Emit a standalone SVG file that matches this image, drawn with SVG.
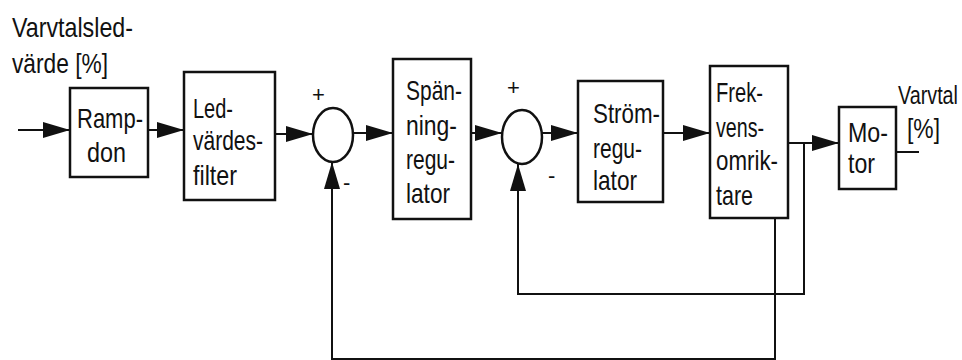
<svg xmlns="http://www.w3.org/2000/svg" width="962" height="360" viewBox="0 0 962 360">
<style>
.box{fill:#fff;stroke:#111;stroke-width:2.5}
.sum{fill:#fff;stroke:#111;stroke-width:2.5}
.ln{fill:none;stroke:#111;stroke-width:2}
text{font-family:"Liberation Sans",Arial,sans-serif;font-size:28px;fill:#111}
.sg{font-size:22px}
.out{font-size:26px}
</style>
<defs>
<marker id="ah" markerUnits="userSpaceOnUse" markerWidth="27" markerHeight="16" refX="27" refY="8" orient="auto">
<path d="M0,0 L27,8 L0,16 z" fill="#111"/>
</marker>
</defs>
<g id="labels">
<text x="12" y="37" textLength="121" lengthAdjust="spacingAndGlyphs">Varvtalsled-</text>
<text x="12" y="73" textLength="96" lengthAdjust="spacingAndGlyphs">värde [%]</text>
<text class="out" x="958" y="104" text-anchor="end" textLength="60" lengthAdjust="spacingAndGlyphs">Varvtal</text>
<text x="907" y="138" textLength="33" lengthAdjust="spacingAndGlyphs">[%]</text>
<text class="sg" x="312" y="102">+</text>
<text class="sg" x="343" y="190">-</text>
<text class="sg" x="507" y="95">+</text>
<text class="sg" x="548" y="183">-</text>
</g>
<g id="connectors">
<line class="ln" x1="18" y1="130" x2="70" y2="130" marker-end="url(#ah)"/>
<line class="ln" x1="148" y1="130" x2="184" y2="130" marker-end="url(#ah)"/>
<line class="ln" x1="275" y1="134" x2="313" y2="134" marker-end="url(#ah)"/>
<line class="ln" x1="353" y1="133" x2="393" y2="133" marker-end="url(#ah)"/>
<line class="ln" x1="471" y1="133" x2="502" y2="133" marker-end="url(#ah)"/>
<line class="ln" x1="542" y1="133" x2="578" y2="133" marker-end="url(#ah)"/>
<line class="ln" x1="663" y1="133" x2="710" y2="133" marker-end="url(#ah)"/>
<line class="ln" x1="785" y1="143" x2="839" y2="143" marker-end="url(#ah)"/>
<line class="ln" x1="896" y1="152" x2="919" y2="152"/>
<polyline class="ln" points="804,143 804,294 518,294 518,164" marker-end="url(#ah)"/>
<polyline class="ln" points="775,218 775,359 332,359 332,162" marker-end="url(#ah)"/>
</g>
<g id="ramp">
<rect class="box" x="70" y="88" width="78" height="89"/>
<text x="77" y="128" textLength="66" lengthAdjust="spacingAndGlyphs">Ramp-</text>
<text x="87" y="162" textLength="39" lengthAdjust="spacingAndGlyphs">don</text>
</g>
<g id="ledvardesfilter">
<rect class="box" x="184" y="72" width="91" height="128"/>
<text x="193" y="118" textLength="40" lengthAdjust="spacingAndGlyphs">Led-</text>
<text x="193" y="150" textLength="70" lengthAdjust="spacingAndGlyphs">värdes-</text>
<text x="193" y="185" textLength="44" lengthAdjust="spacingAndGlyphs">filter</text>
</g>
<g id="sum1">
<ellipse class="sum" cx="333" cy="135" rx="20" ry="27"/>
</g>
<g id="spanningregulator">
<rect class="box" x="393" y="59" width="78" height="160"/>
<text x="406" y="100" textLength="56" lengthAdjust="spacingAndGlyphs">Spän-</text>
<text x="406" y="135" textLength="51" lengthAdjust="spacingAndGlyphs">ning-</text>
<text x="406" y="169" textLength="49" lengthAdjust="spacingAndGlyphs">regu-</text>
<text x="406" y="203" textLength="44" lengthAdjust="spacingAndGlyphs">lator</text>
</g>
<g id="sum2">
<ellipse class="sum" cx="522" cy="137" rx="20" ry="27"/>
</g>
<g id="stromregulator">
<rect class="box" x="578" y="81" width="85" height="121"/>
<text x="593" y="123" textLength="67" lengthAdjust="spacingAndGlyphs">Ström-</text>
<text x="593" y="158" textLength="49" lengthAdjust="spacingAndGlyphs">regu-</text>
<text x="593" y="190" textLength="44" lengthAdjust="spacingAndGlyphs">lator</text>
</g>
<g id="frekvensomriktare">
<rect class="box" x="710" y="66" width="78" height="152"/>
<text x="716" y="102" textLength="47" lengthAdjust="spacingAndGlyphs">Frek-</text>
<text x="716" y="137" textLength="48" lengthAdjust="spacingAndGlyphs">vens-</text>
<text x="716" y="170" textLength="62" lengthAdjust="spacingAndGlyphs">omrik-</text>
<text x="716" y="205" textLength="37" lengthAdjust="spacingAndGlyphs">tare</text>
</g>
<g id="motor">
<rect class="box" x="839" y="107" width="57" height="82"/>
<text x="848" y="142" textLength="40" lengthAdjust="spacingAndGlyphs">Mo-</text>
<text x="848" y="173" textLength="27" lengthAdjust="spacingAndGlyphs">tor</text>
</g>
</svg>
